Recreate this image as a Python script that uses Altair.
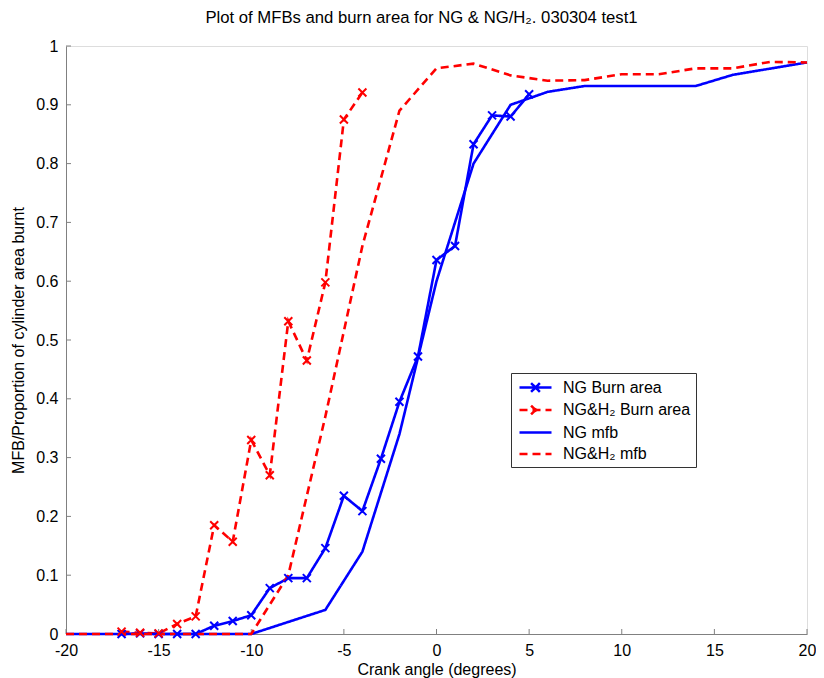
import altair as alt
import pandas as pd

FONT = "Liberation Sans"

series_names = ["NG Burn area", "NG&H₂ Burn area", "NG mfb", "NG&H₂ mfb"]
series_colors = ["#0000FF", "#FF0000", "#0000FF", "#FF0000"]
series_dashes = [[1, 0], [8, 5], [1, 0], [8, 5]]
legend_shapes = [
    "M-2,0H2M-0.55,-0.55L0.55,0.55M-0.55,0.55L0.55,-0.55",
    "M-2,0H2M-0.55,-0.55L0.55,0.55M-0.55,0.55L0.55,-0.55",
    "M-2,0H2",
    "M-2,0H2",
]

ng_burn_x = [-17, -16, -15, -14, -13, -12, -11, -10, -9, -8, -7, -6, -5, -4, -3, -2, -1, 0, 1, 2, 3, 4, 5]
ng_burn_y = [0.0, 0.001, 0.0, 0.0, 0.0, 0.014, 0.022, 0.032, 0.078, 0.095, 0.095, 0.146, 0.235, 0.209,
             0.298, 0.395, 0.472, 0.636, 0.660, 0.833, 0.882, 0.880, 0.918]

h2_burn_x = [-17, -16, -15, -14, -13, -12, -11, -10, -9, -8, -7, -6, -5, -4]
h2_burn_y = [0.004, 0.002, 0.001, 0.017, 0.030, 0.185, 0.157, 0.330, 0.270, 0.532, 0.465, 0.598, 0.875, 0.921]

ng_mfb_x = [-20, -10, -6, -4, -2, -1, 0, 2, 4, 6, 8, 14, 16, 20]
ng_mfb_y = [0.0, 0.0, 0.041, 0.14, 0.34, 0.47, 0.60, 0.80, 0.90, 0.922, 0.932, 0.932, 0.951, 0.972]

h2_mfb_x = [-20, -10, -8, -6, -4, -2, 0, 2, 4, 6, 8, 10, 12, 14, 16, 18, 20]
h2_mfb_y = [0.0, 0.0, 0.10, 0.37, 0.66, 0.89, 0.962, 0.97, 0.95, 0.941, 0.942, 0.952, 0.952, 0.962,
            0.962, 0.973, 0.972]

x_ticks = [-20, -15, -10, -5, 0, 5, 10, 15, 20]
y_ticks = [0, 0.1, 0.2, 0.3, 0.4, 0.5, 0.6, 0.7, 0.8, 0.9, 1]

rows = []
for name, xs, ys in [
    (series_names[0], ng_burn_x, ng_burn_y),
    (series_names[1], h2_burn_x, h2_burn_y),
    (series_names[2], ng_mfb_x, ng_mfb_y),
    (series_names[3], h2_mfb_x, h2_mfb_y),
]:
    for i, (a, v) in enumerate(zip(xs, ys)):
        rows.append({"series": name, "angle": a, "value": v, "idx": i})
df = pd.DataFrame(rows)

# rows without a position: they draw nothing and only carry the legend symbols
df_leg = pd.DataFrame({"series": series_names, "angle": [None] * 4, "value": [None] * 4})

FS = 16
axis_common = dict(
    grid=False, ticks=False, domainColor="#808080", labelFlush=False,
    labelFont=FONT, labelFontSize=FS, labelColor="black",
    titleFont=FONT, titleFontSize=FS, titleFontWeight="normal", titleColor="black",
    labelExpr="toString(datum.value)",
)

x_enc = alt.X(
    "angle:Q",
    scale=alt.Scale(domain=[-20, 20], nice=False, zero=False),
    axis=alt.Axis(values=x_ticks, title="Crank angle (degrees)", labelPadding=8, titlePadding=3, **axis_common),
)
y_enc = alt.Y(
    "value:Q",
    scale=alt.Scale(domain=[0, 1], nice=False),
    axis=alt.Axis(values=y_ticks, title="MFB/Proportion of cylinder area burnt", labelPadding=8,
                  titlePadding=9, **axis_common),
)

legend = alt.Legend(
    title=None, orient="none", legendX=445, legendY=327,
    fillColor="white", strokeColor="#333333", padding=5,
    labelFont=FONT, labelFontSize=FS, labelColor="black",
    symbolSize=256, symbolStrokeWidth=2.5, symbolOffset=10,
    rowPadding=3.5, labelOffset=18,
)

color_enc = alt.Color("series:N", scale=alt.Scale(domain=series_names, range=series_colors), legend=legend)
dash_enc = alt.StrokeDash("series:N", scale=alt.Scale(domain=series_names, range=series_dashes), legend=legend)

lines = alt.Chart(df).mark_line(strokeWidth=2.6).encode(
    x=x_enc, y=y_enc, order="idx:Q", color=color_enc, strokeDash=dash_enc,
)

legend_layer = alt.Chart(df_leg).mark_point(filled=False, strokeWidth=2.5, size=256, opacity=1).encode(
    x="angle:Q", y="value:Q", color=color_enc, strokeDash=dash_enc,
    shape=alt.Shape("series:N", scale=alt.Scale(domain=series_names, range=legend_shapes), legend=legend),
)

marker = "M-1,-1L1,1M-1,1L1,-1"
pts_ng = alt.Chart(df).transform_filter(alt.datum.series == series_names[0]).mark_point(
    shape=marker, size=64, strokeWidth=2, filled=False, opacity=1
).encode(x="angle:Q", y="value:Q", color=alt.value("#0000FF"))
pts_h2 = alt.Chart(df).transform_filter(alt.datum.series == series_names[1]).mark_point(
    shape=marker, size=64, strokeWidth=2, filled=False, opacity=1
).encode(x="angle:Q", y="value:Q", color=alt.value("#FF0000"))

xt = alt.Chart(pd.DataFrame({"t": x_ticks})).mark_rule(color="#808080", strokeWidth=1).encode(
    x="t:Q", y=alt.value(588), y2=alt.value(583)
)
yt = alt.Chart(pd.DataFrame({"t": y_ticks})).mark_rule(color="#808080", strokeWidth=1).encode(
    y="t:Q", x=alt.value(0), x2=alt.value(5)
)

chart = alt.layer(xt, yt, lines, pts_ng, pts_h2, legend_layer).properties(
    width=741, height=588,
    padding={"left": 58, "top": 38, "right": 9, "bottom": 44},
    autosize=alt.AutoSizeParams(type="none"),
    title=alt.TitleParams(
        text="Plot of MFBs and burn area for NG & NG/H₂. 030304 test1",
        font=FONT, fontSize=16.7, fontWeight="normal", color="black", anchor="middle", offset=11, dx=-15,
    ),
).configure_view(stroke=None).configure(font=FONT, background="white")

chart.save("out.html", embed_options={"renderer": "svg", "actions": False})
